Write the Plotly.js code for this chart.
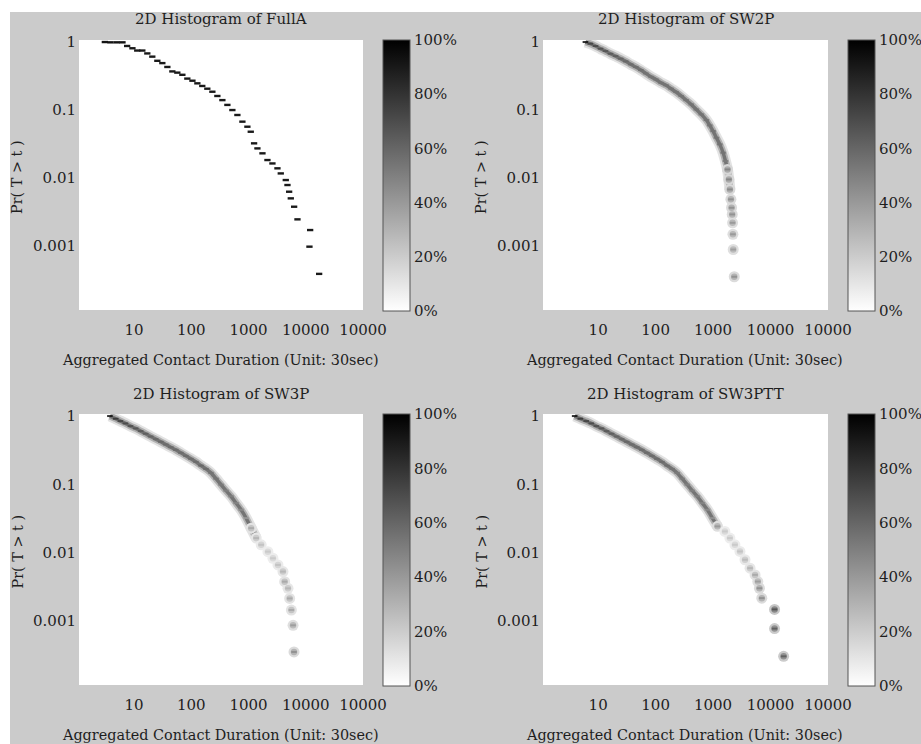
<!DOCTYPE html>
<html><head><meta charset="utf-8">
<script src="https://cdn.plot.ly/plotly-3.0.1.min.js"></script>
<style>html,body{margin:0;padding:0;background:#fff;} #chart{width:921px;height:744px;}</style>
</head><body><div id="chart"></div>
<script>
// ---- tick labels ----
const xTickVals = [1, 10, 100, 1000, 10000, 100000];
const xTickText = ['', '10', '100', '1000', '10000', '10000'];
const yTickVals = [1, 0.1, 0.01, 0.001];
const yTickText = ['1', '0.1', '0.01', '0.001'];
const cbTickVals = [0, 0.2, 0.4, 0.6, 0.8, 1];
const cbTickText = ['0%', '20%', '40%', '60%', '80%', '100%'];
const panelNames = ['FullA', 'SW2P', 'SW3P', 'SW3PTT'];
const xTitle = 'Aggregated Contact Duration (Unit: 30sec)';
const yTitle = 'Pr( T > t )';

// ---- FullA ----
const fullA_t = [3.1,3.9,5.0,6.3,7.6,9.4,11.4,14.0,17.1,20.9,25.6,31.3,38.3,46.8,57.2,70,85.5,105,128,156,191,234,286,350,428,523,640,783,957,1096,1253,1432,1754,2143,2620,3206,3664,4480,4797,5130,5480,6270,7170,11940,11610,17140];
const fullA_p = [1.0,0.99,0.99,0.99,0.875,0.81,0.75,0.75,0.68,0.61,0.53,0.49,0.43,0.37,0.355,0.33,0.29,0.27,0.247,0.226,0.206,0.186,0.161,0.14,0.119,0.1,0.0846,0.0675,0.0569,0.048,0.0324,0.0273,0.0231,0.0184,0.0164,0.0139,0.0117,0.00935,0.0079,0.0063,0.00503,0.00379,0.00247,0.00172,0.00098,0.00039];
const fullA_d = [0.92,0.92,0.92,0.92,0.9,0.9,0.9,0.9,0.9,0.9,0.9,0.9,0.9,0.9,0.9,0.9,0.9,0.9,0.9,0.9,0.9,0.9,0.9,0.9,0.9,0.9,0.9,0.9,0.9,0.9,0.9,0.9,0.9,0.9,0.9,0.9,0.9,0.9,0.9,0.9,0.9,0.9,0.9,0.9,0.9,0.9];

// ---- SW2P ----
const sw2p_t = [6.0,7.3,9.0,11.0,13.4,16.4,20.1,24.7,30.2,36.9,45.2,55.3,67.6,82.8,101,124,152,186,227,278,340,417,510,624,764,874,1000,1143,1309,1496,1644,1782,1883,1960,2041,2098,2153,2183,2213,2244,2336];
const sw2p_p = [1.0,0.945,0.873,0.798,0.737,0.673,0.622,0.569,0.52,0.47,0.429,0.387,0.346,0.309,0.282,0.252,0.231,0.206,0.184,0.161,0.14,0.121,0.102,0.0863,0.0713,0.0595,0.0491,0.0392,0.0313,0.0236,0.0178,0.0134,0.00955,0.0068,0.00486,0.00366,0.00292,0.0022,0.00149,0.00089,0.000354];
const sw2p_d = [0.95,0.75,0.72,0.7,0.68,0.66,0.64,0.62,0.6,0.58,0.57,0.56,0.55,0.55,0.55,0.55,0.55,0.55,0.55,0.55,0.55,0.55,0.55,0.55,0.55,0.55,0.55,0.55,0.55,0.55,0.52,0.5,0.5,0.48,0.45,0.45,0.45,0.42,0.42,0.4,0.45];

// ---- SW3P ----
const sw3p_t = [3.8,4.8,5.8,7.1,8.7,10.7,13.1,16.0,19.6,24.0,29.4,36.0,44.0,53.8,65.9,80.6,98.6,121,148,181,221,271,331,406,497,608,743,910,1114,1364,1667,2183,2674,3273,4000,4285,4900,5240,5610,6000,6240];
const sw3p_p = [1.0,0.914,0.844,0.78,0.713,0.659,0.602,0.55,0.502,0.459,0.42,0.383,0.35,0.32,0.289,0.261,0.236,0.213,0.188,0.168,0.147,0.121,0.0989,0.0807,0.0667,0.0531,0.0424,0.032,0.0228,0.0163,0.013,0.0103,0.00826,0.00659,0.00526,0.00375,0.00299,0.00213,0.00144,0.00086,0.00035];
const sw3p_d = [0.95,0.8,0.75,0.72,0.7,0.68,0.66,0.64,0.62,0.6,0.6,0.58,0.58,0.58,0.58,0.58,0.58,0.58,0.6,0.58,0.55,0.55,0.52,0.5,0.5,0.48,0.45,0.4,0.35,0.3,0.25,0.22,0.22,0.25,0.3,0.35,0.3,0.35,0.35,0.4,0.45];

// ---- SW3PTT ----
const sw3ptt_t = [3.9,4.9,6.2,7.6,9.3,11.4,14.0,17.1,21.0,25.7,31.4,38.5,47.1,57.6,70.5,86.3,105,129,158,194,237,290,355,434,531,650,796,973,1191,1603,1960,2398,2937,3594,4400,5380,6000,6410,7045,11750,11750,16900];
const sw3ptt_p = [1.0,0.914,0.844,0.78,0.713,0.659,0.602,0.55,0.502,0.459,0.42,0.383,0.35,0.32,0.289,0.261,0.236,0.213,0.188,0.168,0.147,0.121,0.0989,0.0807,0.0667,0.0531,0.0424,0.032,0.0242,0.0204,0.0163,0.013,0.0104,0.00785,0.00591,0.00471,0.00376,0.003,0.00215,0.00147,0.00077,0.000302];
const sw3ptt_d = [0.95,0.8,0.75,0.72,0.7,0.68,0.66,0.64,0.62,0.6,0.6,0.58,0.58,0.58,0.58,0.58,0.58,0.58,0.58,0.55,0.52,0.52,0.5,0.5,0.5,0.48,0.45,0.42,0.42,0.22,0.22,0.22,0.25,0.28,0.3,0.35,0.4,0.45,0.45,0.7,0.65,0.65];

// ---- drawing ----
const W = 921, H = 744;
const FONT = 'DejaVu Serif';
const TXT = '#1e1e1e';
const grayScale = [[0, '#ffffff'], [1, '#000000']];
// band: index range drawn as a continuous (blurred) band; tail: index from which points get a soft halo
const series = [
  {t: fullA_t, p: fullA_p, d: fullA_d, band: null, tail: null},
  {t: sw2p_t, p: sw2p_p, d: sw2p_d, band: 34, tail: 31},
  {t: sw3p_t, p: sw3p_p, d: sw3p_d, band: 30, tail: 28},
  {t: sw3ptt_t, p: sw3ptt_p, d: sw3ptt_d, band: 29, tail: 28}
];
const geo = [
  {x0: 79, x1: 363, y0: 40, y1: 310, cb: 383, ty: 19, xt: 360},
  {x0: 543, x1: 828, y0: 40, y1: 310, cb: 848, ty: 19, xt: 360},
  {x0: 79, x1: 363, y0: 414, y1: 685, cb: 383, ty: 394, xt: 735},
  {x0: 543, x1: 828, y0: 414, y1: 685, cb: 848, ty: 394, xt: 735}
];
const px = v => v / W;
const py = v => 1 - v / H;

const traces = [];
const layout = {
  width: W, height: H,
  margin: {l: 0, r: 0, t: 0, b: 0, pad: 0},
  paper_bgcolor: '#cbcbcb',
  plot_bgcolor: '#ffffff',
  showlegend: false,
  font: {family: FONT, size: 15, color: TXT},
  shapes: [
    {type: 'rect', xref: 'paper', yref: 'paper', x0: 0, x1: 1, y0: py(12), y1: 1, fillcolor: '#ffffff', line: {width: 0}, layer: 'below'},
    {type: 'rect', xref: 'paper', yref: 'paper', x0: 0, x1: px(10), y0: 0, y1: 1, fillcolor: '#ffffff', line: {width: 0}, layer: 'below'}
  ],
  annotations: []
};

const bandLayers = [
  {w: 11, c: 'rgba(0,0,0,0.11)'},
  {w: 7, c: 'rgba(0,0,0,0.22)'},
  {w: 3.5, c: 'rgba(0,0,0,0.34)'}
];

series.forEach((s, i) => {
  const n = i + 1;
  const g = geo[i];
  const sfx = n === 1 ? '' : String(n);
  const xa = 'x' + sfx, ya = 'y' + sfx;
  layout['xaxis' + sfx] = {
    type: 'log', range: [0.04, 5], domain: [px(g.x0), px(g.x1)], anchor: ya,
    tickvals: xTickVals, ticktext: xTickText, ticks: '', showgrid: false, zeroline: false,
    showline: false, tickfont: {family: FONT, size: 15, color: TXT}, ticklabelstandoff: 9, fixedrange: true
  };
  layout['yaxis' + sfx] = {
    type: 'log', range: [-3.94, 0.03], domain: [py(g.y1), py(g.y0)], anchor: xa,
    tickvals: yTickVals, ticktext: yTickText, ticks: '', showgrid: false, zeroline: false,
    showline: false, tickfont: {family: FONT, size: 15, color: TXT}, ticklabelstandoff: 2, fixedrange: true
  };
  if (s.band !== null) {
    const bt = s.t.slice(0, s.band), bp = s.p.slice(0, s.band);
    bandLayers.forEach(L => traces.push({type: 'scatter', mode: 'lines', x: bt, y: bp, xaxis: xa, yaxis: ya,
      hoverinfo: 'skip', line: {color: L.c, width: L.w, shape: 'spline', smoothing: 0.6}}));
    const tt = s.t.slice(s.tail), tp = s.p.slice(s.tail), td = s.d.slice(s.tail);
    traces.push({type: 'scatter', mode: 'markers', x: tt, y: tp, xaxis: xa, yaxis: ya, hoverinfo: 'skip',
      marker: {symbol: 'circle', size: 11, color: td, colorscale: grayScale, cmin: 0, cmax: 3.2, showscale: false, line: {width: 0}}});
    traces.push({type: 'scatter', mode: 'markers', x: tt, y: tp, xaxis: xa, yaxis: ya, hoverinfo: 'skip',
      marker: {symbol: 'circle', size: 6.5, color: td, colorscale: grayScale, cmin: 0, cmax: 1.5, showscale: false, line: {width: 0}}});
  }
  const blur = s.band !== null;
  traces.push({type: 'scatter', mode: 'markers', x: s.t, y: s.p, xaxis: xa, yaxis: ya, hoverinfo: 'skip',
    marker: {symbol: 'line-ew-open', size: blur ? 4 : 4.5, color: s.d, colorscale: grayScale, cmin: 0, cmax: 1,
      opacity: blur ? 0.85 : 1,
      line: {width: blur ? 2 : 2.4},
      showscale: true,
      colorbar: {
        x: px(g.cb), xanchor: 'left', y: 1 - (g.y0 + g.y1 + 1) / 2 / H, yanchor: 'middle',
        len: (g.y1 + 1 - g.y0) / H, lenmode: 'fraction', thickness: 27, thicknessmode: 'pixels',
        xpad: 0, ypad: 0, outlinewidth: 1, outlinecolor: '#555', bgcolor: 'rgba(0,0,0,0)',
        tickvals: cbTickVals, ticktext: cbTickText, ticks: '', tickfont: {family: FONT, size: 15, color: TXT}
      }}});
  layout.annotations.push(
    {text: '2D Histogram of ' + panelNames[i], xref: 'paper', yref: 'paper', x: px((g.x0 + g.x1) / 2), y: py(g.ty),
     xanchor: 'center', yanchor: 'middle', showarrow: false, font: {family: FONT, size: 15, color: TXT}},
    {text: xTitle, xref: 'paper', yref: 'paper', x: px((g.x0 + g.x1) / 2 - 1), y: py(g.xt),
     xanchor: 'center', yanchor: 'middle', showarrow: false, font: {family: FONT, size: 14.4, color: TXT}},
    {text: yTitle, xref: 'paper', yref: 'paper', x: px(g.x0 - 62), y: py((g.y0 + g.y1) / 2 + 2), textangle: -90,
     xanchor: 'center', yanchor: 'middle', showarrow: false, font: {family: FONT, size: 14.4, color: TXT}}
  );
});

Plotly.newPlot('chart', traces, layout, {displayModeBar: false, staticPlot: true});
</script>
</body></html>
